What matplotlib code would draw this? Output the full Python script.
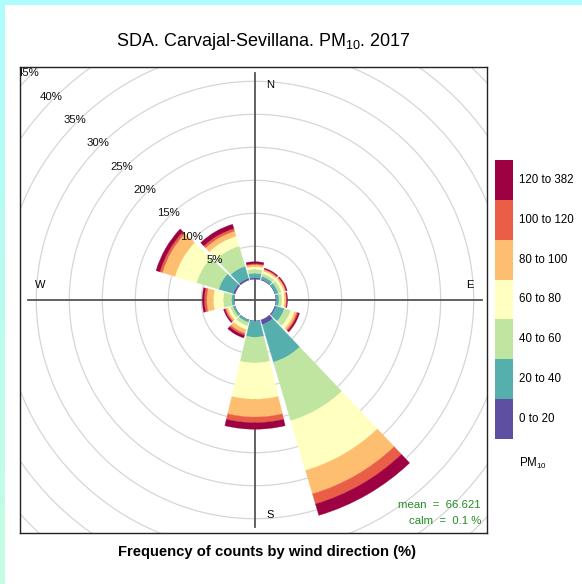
import numpy as np
import matplotlib
matplotlib.use("Agg")
import matplotlib.pyplot as plt
from matplotlib.patches import Wedge, Rectangle

plt.rcParams['font.family'] = ['Liberation Sans', 'DejaVu Sans']
plt.rcParams['mathtext.fontset'] = 'custom'
plt.rcParams['mathtext.rm'] = 'Liberation Sans'
plt.rcParams['mathtext.default'] = 'regular'

# wind direction bins (degrees, clockwise from north)
directions = [0, 30, 60, 90, 120, 150, 180, 210, 240, 270, 300, 330]
bands = ["0 to 20", "20 to 40", "40 to 60", "60 to 80", "80 to 100", "100 to 120", "120 to 382"]
colors = ["#5E4FA2", "#55AFAD", "#BFE5A0", "#FFFFBF", "#FDBE6F", "#EA5D47", "#9E0142"]

# frequency (%) of each PM10 band per direction
f_0_20    = [0.24, 0.15, 0.10, 0.10, 0.20, 0.75, 0.10, 0.05, 0.05, 0.05, 0.30, 0.30]
f_20_40   = [0.67, 0.45, 0.45, 0.40, 1.30, 5.95, 2.40, 0.35, 0.30, 0.35, 2.30, 1.90]
f_40_60   = [0.61, 0.45, 0.50, 0.45, 1.00, 9.25, 3.90, 0.55, 0.40, 1.27, 3.50, 3.20]
f_60_80   = [0.39, 0.35, 0.40, 0.40, 0.60, 7.85, 5.50, 0.60, 0.40, 1.51, 3.40, 1.55]
f_80_100  = [0.30, 0.25, 0.25, 0.25, 0.35, 3.70, 2.70, 0.60, 0.30, 1.00, 2.00, 0.80]
f_100_120 = [0.15, 0.10, 0.10, 0.10, 0.20, 1.60, 0.85, 0.30, 0.18, 0.37, 0.40, 0.40]
f_120_382 = [0.31, 0.15, 0.15, 0.10, 0.25, 1.80, 1.00, 0.40, 0.20, 0.30, 0.60, 0.68]

ring_values = [5, 10, 15, 20, 25, 30, 35, 40, 45]
mean_value = 66.621
calm_value = 0.1

freqs = np.array([f_0_20, f_20_40, f_40_60, f_60_80, f_80_100, f_100_120, f_120_382])
cum = np.cumsum(freqs, axis=0)

W, H = 582, 584
fig = plt.figure(figsize=(W / 100, H / 100), dpi=100)
fig.patch.set_facecolor("white")

# cyan frame strips (left and top)
strip = fig.add_axes([0, 0, 5 / W, 1])
strip.imshow(np.linspace(0, 1, 100).reshape(-1, 1), aspect="auto",
             cmap=matplotlib.colors.LinearSegmentedColormap.from_list("c", ["#aefcfd", "#c4fde2"]))
strip.axis("off")
fig.add_artist(Rectangle((0, 1 - 5 / H), 1, 5 / H, transform=fig.transFigure,
                         color="#aefcfd", lw=0))

px = 6.6            # pixels per percent
hole = 20.7 / px    # inner offset (calm circle)
cx, cy = 255, 300   # centre in pixels
pl, pr, pt, pb = 20, 487, 67, 533

ax = fig.add_axes([pl / W, (H - pb) / H, (pr - pl) / W, (pb - pt) / H])
ax.set_xlim(-(cx - pl) / px, (pr - cx) / px)
ax.set_ylim(-(pb - cy) / px, (cy - pt) / px)
ax.set_xticks([])
ax.set_yticks([])
for s in ax.spines.values():
    s.set_linewidth(1.0)
    s.set_color("#222222")

# grid rings and labels
t = np.linspace(0, 2 * np.pi, 400)
for v in ring_values:
    r = hole + v
    ax.plot(r * np.cos(t), r * np.sin(t), color="#d6d6d6", lw=0.9, zorder=1)
    rl = r + 3 / px
    txt = ax.text(-rl * np.sin(np.pi / 4), rl * np.cos(np.pi / 4), f"{v}%",
                  ha="center", va="center", fontsize=8.2, color="#111111", zorder=5)
    txt.set_clip_on(True)

# axis lines
L = 227 / px
ax.plot([0, 0], [-L, L], color="#555555", lw=1.3, zorder=2)
ax.plot([-L, L], [0, 0], color="#555555", lw=1.3, zorder=2)
lo, off = 215 / px, 15 / px
ax.text(off, lo, "N", ha="center", va="center", fontsize=8)
ax.text(off, -lo, "S", ha="center", va="center", fontsize=8)
ax.text(lo, off, "E", ha="center", va="center", fontsize=8)
ax.text(-lo, off, "W", ha="center", va="center", fontsize=8)

# stacked wedges
half = 30 * 0.9 / 2
for j, d in enumerate(directions):
    a = 90 - d
    for k in range(len(bands)):
        outer = hole + cum[k, j]
        ax.add_patch(Wedge((0, 0), outer, a - half, a + half, width=freqs[k, j],
                           facecolor=colors[k], edgecolor=colors[k], lw=0.2, zorder=3))

ax.text((481 - cx) / px, -(505 - cy) / px, f"mean  =  {mean_value}", ha="right", va="center",
        fontsize=8.2, color="forestgreen")
ax.text((481 - cx) / px, -(521 - cy) / px, f"calm  =  {calm_value} %", ha="right", va="center",
        fontsize=8.2, color="forestgreen")

# legend key
lax = fig.add_axes([495 / W, (H - 439) / H, 18 / W, 279 / H])
for k in range(len(bands)):
    lax.bar(0, 1, bottom=k, width=1, color=colors[k], lw=0)
    lax.text(-0.5 + 24 / 18, k + 0.5, bands[k], ha="left", va="center", fontsize=8.3, clip_on=False)
lax.set_xlim(-0.5, 0.5)
lax.set_ylim(0, len(bands))
lax.axis("off")
fig.text(519 / W, 1 - 463 / H, "PM$_{10}$", ha="left", va="center", fontsize=8.3)

fig.text(263 / W, 1 - 42 / H, "SDA. Carvajal-Sevillana. PM$_{10}$. 2017", ha="center", va="center",
         fontsize=13)
fig.text(267 / W, 1 - 552 / H, "Frequency of counts by wind direction (%)", ha="center", va="center",
         fontsize=10.6, fontweight="bold")

fig.savefig("out.png", dpi=100)
